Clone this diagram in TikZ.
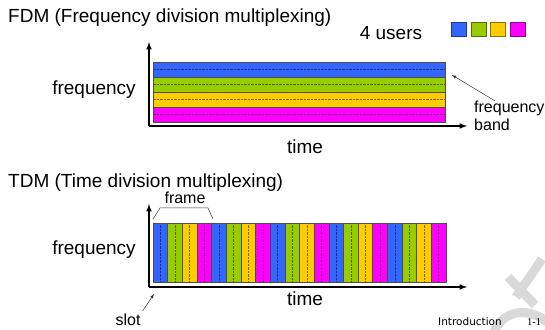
\documentclass[tikz,border=0pt]{standalone}
\usepackage{fontspec}
\setmainfont{Liberation Sans}
\newfontfamily\footfont{DejaVu Sans}
\newfontfamily\pagefont{Liberation Serif}

\definecolor{usrblue}{RGB}{51,102,255}
\definecolor{usrgreen}{RGB}{153,204,0}
\definecolor{usryellow}{RGB}{255,204,0}
\definecolor{usrmagenta}{RGB}{255,0,255}

\tikzset{
  axis/.style={line width=1.5pt,->,>=latex},
  pointer/.style={->,>=latex,line width=0.5pt,black!80},
  biglbl/.style={font=\fontsize{19}{22}\selectfont,inner sep=0pt},
  smalllbl/.style={font=\fontsize{16}{18}\selectfont,inner sep=0pt,align=left},
}

\begin{document}
\begin{tikzpicture}[x=1pt,y=1pt]
\useasboundingbox (0,0) rectangle (545,329);
% watermark
\begin{scope}
\clip (0,0) rectangle (545,329);
\draw[gray!30,line width=9pt] (508,52) -- (535,24);
\draw[gray!30,line width=9pt] (542,70) -- (516,32);
\draw[gray!30,line width=9pt] (494,-2) .. controls (505,20) and (530,22) .. (548,6);
\end{scope}

% FDM
\node[biglbl,anchor=west] (fdmtitle) at (8,311) {FDM (Frequency division multiplexing)};
\node[biglbl] (users) at (391,296) {4 users};
\foreach \c [count=\i from 0] in {usrblue,usrgreen,usryellow,usrmagenta}
    \fill[\c,draw=\c!55!black] ({451+19.7*\i},293) rectangle +(15,14);
\foreach \c [count=\i] in {usrblue,usrgreen,usryellow,usrmagenta} {
    \fill[\c,draw=black!70,line width=0.6pt] (153,{267-15*\i}) rectangle +(292,15);
    \draw[\c!50!black,densely dotted] (154,{274.5-15*\i}) -- +(290,0);
}
\coordinate (fdmo) at (149,203);
\coordinate (fdmy) at (149,287);
\coordinate (fdmx) at (467,203);
\draw[axis] (fdmo) -- (fdmy);
\draw[axis] (fdmo) -- (fdmx);
\node[biglbl] (fdmfreq) at (94,239) {frequency};
\node[biglbl] (fdmtime) at (305,182) {time};
\node[smalllbl,anchor=west] (bandlbl) at (474,213) {frequency\\band};
\coordinate (bandtip) at (452,254);
\draw[pointer] (bandlbl.north west) ++(21,0) coordinate (bandtail) (bandtail) -- (bandtip);

% TDM
\node[biglbl,anchor=west] (tdmtitle) at (8,146) {TDM (Time division multiplexing)};
\foreach \f in {0,...,4}
  \foreach \c [count=\i from 0] in {usrblue,usrgreen,usryellow,usrmagenta} {
    \pgfmathsetmacro\sx{153+(4*\f+\i)*14.65}
    \fill[\c,draw=black!70,line width=0.6pt] (\sx,47) rectangle +(14.65,59);
    \draw[\c!50!black,densely dotted] (\sx+7.3,48) -- +(0,57);
  }
\coordinate (tdmo) at (149,42);
\coordinate (tdmy) at (149,125);
\coordinate (tdmx) at (467,42);
\draw[axis] (tdmo) -- (tdmy);
\draw[axis] (tdmo) -- (tdmx);
\node[biglbl] (tdmfreq) at (94,79) {frequency};
\node[biglbl] (tdmtime) at (305,30) {time};
\node[smalllbl] (framelbl) at (185,131) {frame};
\draw[line width=0.5pt,black!80] (153,110) -- (160,121) -- (208,121) -- (213,110);
\node[smalllbl] (slotlbl) at (128,9) {slot};
\coordinate (slottip) at (154,35);
\draw[pointer] (slotlbl.north east) ++(2,3) coordinate (slottail) (slottail) -- (slottip);

% footer
\node[font=\footfont\fontsize{10.5}{12}\selectfont,inner sep=0pt] (footer) at (470,7) {Introduction};
\node[font=\pagefont\fontsize{10.5}{12}\selectfont,inner sep=0pt] (pageno) at (534,7) {1-1};
\end{tikzpicture}
\end{document}
